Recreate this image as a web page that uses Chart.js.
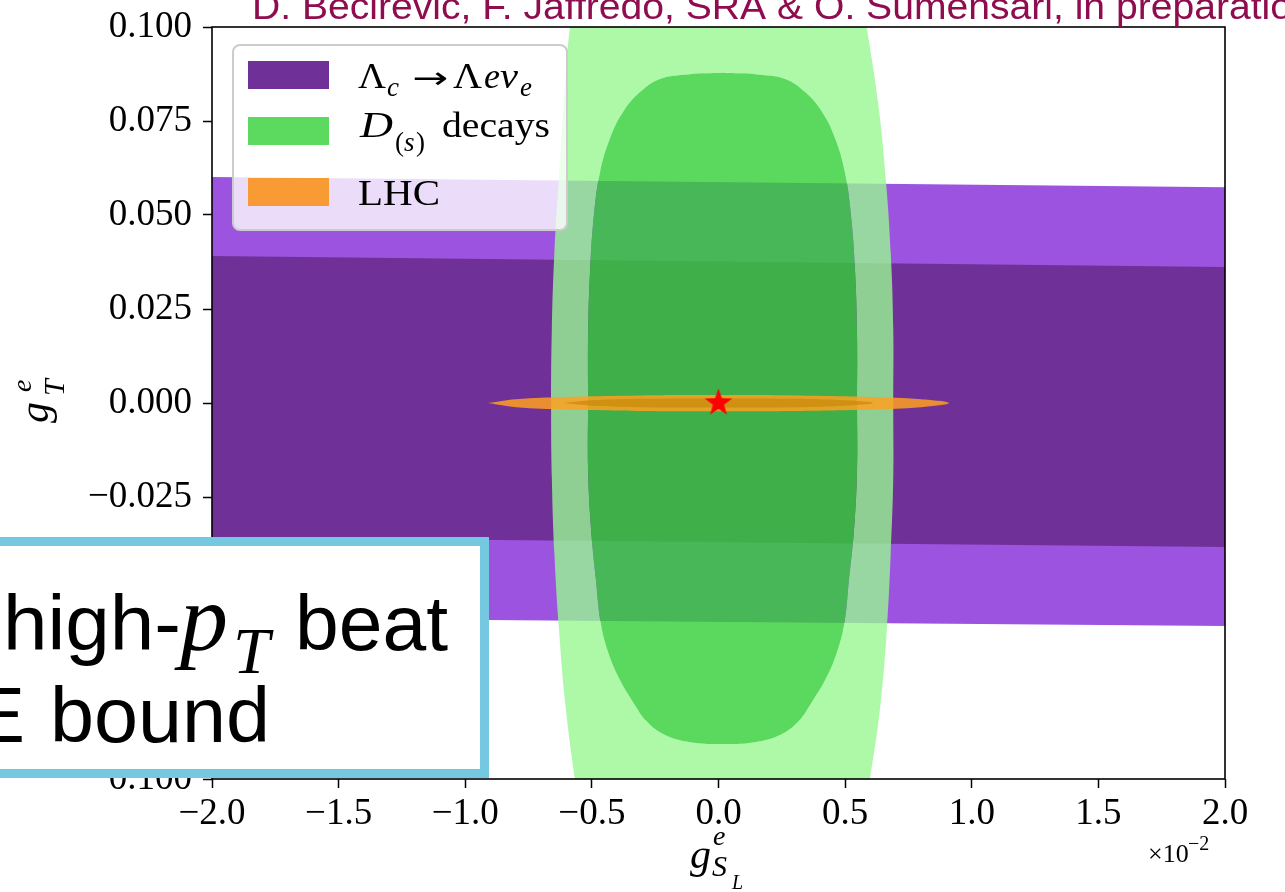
<!DOCTYPE html>
<html>
<head>
<meta charset="utf-8">
<script src="https://cdn.jsdelivr.net/npm/chart.js@4.4.1/dist/chart.umd.min.js"></script>
<style>
  html, body { margin: 0; padding: 0; background: #fff; overflow: hidden; }
</style>
</head>
<body>
<canvas id="plot" width="1285" height="892"></canvas>
<script>
// ---- data (x in units of 10^-2) ----
const xTickValues = [-2, -1.5, -1, -0.5, 0, 0.5, 1, 1.5, 2];
const xTickLabels = ['\u22122.0', '\u22121.5', '\u22121.0', '\u22120.5', '0.0', '0.5', '1.0', '1.5', '2.0'];
const yTickValues = [-0.1, -0.075, -0.05, -0.025, 0, 0.025, 0.05, 0.075, 0.1];
const yTickLabels = ['\u22120.100', '\u22120.075', '\u22120.050', '\u22120.025', '0.000', '0.025', '0.050', '0.075', '0.100'];

// Lambda_c -> Lambda e nu : 2 sigma and 1 sigma bands (corners)
const lambdaOuter = [[-2, 0.0601], [2, 0.0574], [2, -0.0593], [-2, -0.0571]];
const lambdaInner = [[-2, 0.0391], [2, 0.0362], [2, -0.0383], [-2, -0.0357]];

// D(s) decays : outer (2 sigma) contour, clockwise from the top
const dOuter = [
  [0.015, 0.190], [0.21, 0.180], [0.37, 0.160], [0.47, 0.140], [0.535, 0.120], [0.585, 0.100],
  [0.63, 0.080], [0.66, 0.060], [0.68, 0.040], [0.69, 0.020], [0.69, 0.0], [0.69, -0.020],
  [0.68, -0.040], [0.665, -0.060], [0.64, -0.080], [0.598, -0.100], [0.545, -0.120], [0.475, -0.140],
  [0.375, -0.160], [0.215, -0.180], [0.015, -0.190], [-0.185, -0.180], [-0.345, -0.160], [-0.445, -0.140],
  [-0.52, -0.120], [-0.567, -0.100], [-0.605, -0.080], [-0.63, -0.060], [-0.648, -0.040], [-0.658, -0.020],
  [-0.661, 0.0], [-0.658, 0.020], [-0.648, 0.040], [-0.63, 0.060], [-0.61, 0.080], [-0.586, 0.100],
  [-0.53, 0.120], [-0.455, 0.140], [-0.35, 0.160], [-0.19, 0.180]
];
// D(s) decays : inner (1 sigma) contour, clockwise from the top
const dInner = [
  [0.018, 0.0878], [0.152, 0.0874], [0.263, 0.0862], [0.342, 0.0827], [0.409, 0.0774], [0.460, 0.0705],
  [0.499, 0.0614], [0.523, 0.0500], [0.539, 0.0354], [0.547, 0.0181], [0.547, 0.0],
  [0.547, -0.0178], [0.535, -0.0338], [0.515, -0.0471], [0.496, -0.0590], [0.464, -0.0670], [0.421, -0.0737],
  [0.369, -0.0795], [0.314, -0.0848], [0.243, -0.0883], [0.144, -0.0902], [0.018, -0.0907],
  [-0.113, -0.0902], [-0.211, -0.0883], [-0.282, -0.0848], [-0.338, -0.0795], [-0.389, -0.0737], [-0.432, -0.0670],
  [-0.464, -0.0590], [-0.484, -0.0471], [-0.503, -0.0338], [-0.515, -0.0178], [-0.515, 0.0],
  [-0.515, 0.0181], [-0.507, 0.0354], [-0.492, 0.0500], [-0.468, 0.0614], [-0.428, 0.0705], [-0.377, 0.0774],
  [-0.310, 0.0827], [-0.231, 0.0862], [-0.120, 0.0874]
];

// LHC : two thin ellipses
const lhcOuter = [
  [-0.91, 0.0], [-0.80, 0.0010], [-0.60, 0.0016], [-0.30, 0.0020], [0.0, 0.0021], [0.30, 0.0020],
  [0.60, 0.0016], [0.80, 0.0010], [0.91, 0.0], [0.80, -0.0011], [0.60, -0.0017], [0.30, -0.0021],
  [0.0, -0.0022], [-0.30, -0.0021], [-0.60, -0.0017], [-0.80, -0.0011]
];
const lhcInner = [
  [-0.61, 0.0], [-0.50, 0.0007], [-0.30, 0.0011], [0.0, 0.0012], [0.30, 0.0011], [0.50, 0.0007],
  [0.61, 0.0], [0.50, -0.0007], [0.30, -0.0011], [0.0, -0.0012], [-0.30, -0.0011], [-0.50, -0.0007]
];

const bestFit = [[0, 0]];

// ---- helpers ----
const pts = arr => arr.map(p => ({x: p[0], y: p[1]}));
const closed = arr => pts(arr.concat([arr[0]]));

// ring: outer loop one way, inner loop the other way -> hole with nonzero fill
function ring(outer, inner) {
  const innerRev = [inner[0]].concat(inner.slice(1).reverse());
  const path = outer.concat([outer[0], inner[0]], innerRev, [inner[0], inner[0], outer[0]]);
  return pts(path);
}

function makeStar(r) {
  const c = document.createElement('canvas');
  c.width = c.height = 34;
  const g = c.getContext('2d');
  g.translate(17, 17);
  g.beginPath();
  for (let i = 0; i < 10; i++) {
    const rr = i % 2 ? r * 0.4 : r;
    const a = -Math.PI / 2 + i * Math.PI / 5;
    g.lineTo(rr * Math.cos(a), rr * Math.sin(a));
  }
  g.closePath();
  g.fillStyle = '#ff0000';
  g.fill();
  return c;
}

function shape(data, color, tension) {
  return {
    data: data,
    showLine: true,
    fill: 'shape',
    backgroundColor: color,
    borderColor: 'rgba(0,0,0,0)',
    borderWidth: 0,
    pointRadius: 0,
    tension: tension
  };
}

function drawRuns(ctx, parts, color) {
  ctx.fillStyle = color || '#000';
  ctx.textBaseline = 'alphabetic';
  ctx.textAlign = 'left';
  parts.forEach(p => {
    ctx.font = (p.it ? 'italic ' : '') + p.size + 'px ' + (p.fam || '"Liberation Serif"');
    if (p.w) {
      const m = ctx.measureText(p.t).width;
      ctx.save();
      ctx.translate(p.x, p.y);
      ctx.scale(p.w / m, 1);
      ctx.fillText(p.t, 0, 0);
      ctx.restore();
    } else {
      ctx.fillText(p.t, p.x, p.y);
    }
  });
}

function roundRect(ctx, x, y, w, h, r) {
  ctx.beginPath();
  ctx.moveTo(x + r, y);
  ctx.arcTo(x + w, y, x + w, y + h, r);
  ctx.arcTo(x + w, y + h, x, y + h, r);
  ctx.arcTo(x, y + h, x, y, r);
  ctx.arcTo(x, y, x + w, y, r);
  ctx.closePath();
}

const SANS = '"Liberation Sans", Arial, sans-serif';

const decor = {
  id: 'decor',
  afterDatasetsDraw(chart) {
    const {ctx, chartArea: a} = chart;
    ctx.save();
    ctx.strokeStyle = '#000';
    ctx.lineWidth = 1.6;
    ctx.strokeRect(a.left, a.top, a.right - a.left, a.bottom - a.top);
    ctx.restore();
  },
  afterDraw(chart) {
    const ctx = chart.ctx;
    ctx.save();

    // legend
    roundRect(ctx, 233, 45, 334, 185, 7);
    ctx.fillStyle = 'rgba(255,255,255,0.8)';
    ctx.fill();
    ctx.strokeStyle = '#cccccc';
    ctx.lineWidth = 2;
    ctx.stroke();
    ctx.fillStyle = '#6f3198'; ctx.fillRect(248, 61, 81, 28);
    ctx.fillStyle = '#5cd95f'; ctx.fillRect(248, 117, 81, 28);
    ctx.fillStyle = '#f99b34'; ctx.fillRect(248, 178, 81, 28);
    drawRuns(ctx, [
      {t: '\u039b', x: 358, y: 88, size: 36, w: 28},
      {t: 'c', x: 387, y: 96, size: 27, it: true},
      {t: '\u2192', x: 412, y: 88, size: 30, fam: '"DejaVu Sans"', w: 36},
      {t: '\u039b', x: 453, y: 88, size: 36, w: 29},
      {t: 'e', x: 484, y: 88, size: 36, it: true, w: 16},
      {t: '\u03bd', x: 500, y: 88, size: 36, it: true, w: 18},
      {t: 'e', x: 520, y: 96, size: 27, it: true},
      {t: 'D', x: 360, y: 137, size: 36, it: true, w: 33},
      {t: '(', x: 395, y: 151, size: 27},
      {t: 's', x: 404, y: 151, size: 27, it: true},
      {t: ')', x: 416, y: 151, size: 27},
      {t: 'decays', x: 442, y: 137, size: 36, w: 108},
      {t: 'LHC', x: 358, y: 205, size: 36, w: 82}
    ]);

    // axis titles
    ctx.save();
    ctx.translate(42, 423);
    ctx.rotate(-Math.PI / 2);
    drawRuns(ctx, [
      {t: 'g', x: 0, y: 6, size: 42, it: true},
      {t: 'e', x: 31, y: -11, size: 28, it: true},
      {t: 'T', x: 27, y: 22, size: 30, it: true}
    ]);
    ctx.restore();
    drawRuns(ctx, [
      {t: 'g', x: 690, y: 868, size: 42, it: true},
      {t: 'e', x: 713, y: 845, size: 28, it: true},
      {t: 'S', x: 712, y: 876, size: 30, it: true},
      {t: 'L', x: 732, y: 889, size: 20, it: true},
      {t: '\u00d710', x: 1148, y: 862, size: 26},
      {t: '\u22122', x: 1188, y: 850, size: 20}
    ]);

    // header line (cut by the page top)
    const head = 'D. Becirevic, F. Jaffredo, SRA & O. Sumensari, in preparation';
    ctx.font = '36px ' + SANS;
    const k = 1040 / ctx.measureText('D. Becirevic, F. Jaffredo, SRA & O. Sumensari, in preparatio').width;
    ctx.save();
    ctx.translate(252, 19);
    ctx.scale(k, 1);
    ctx.fillStyle = '#8f0d4f';
    ctx.fillText(head, 0, 0);
    ctx.restore();

    // slide callout box
    ctx.fillStyle = '#ffffff';
    ctx.fillRect(-20, 537, 509, 241);
    ctx.strokeStyle = '#74c9e0';
    ctx.lineWidth = 9;
    ctx.strokeRect(-20, 541.5, 504.5, 232);
    drawRuns(ctx, [
      {t: 'high-', x: 3, y: 650, size: 78, fam: SANS, w: 178},
      {t: 'p', x: 180, y: 650, size: 96, it: true},
      {t: 'T', x: 233, y: 673, size: 66, it: true},
      {t: 'beat', x: 295, y: 650, size: 78, fam: SANS, w: 153},
      {t: 'E', x: -27, y: 742, size: 78, fam: SANS},
      {t: 'bound', x: 50, y: 742, size: 78, fam: SANS, w: 220}
    ]);
    ctx.restore();
  }
};

const tickFont = {family: '"Liberation Serif", serif', size: 37};

new Chart(document.getElementById('plot'), {
  type: 'scatter',
  data: {
    datasets: [
      {data: pts(bestFit), pointStyle: makeStar(14.5), pointRadius: 10, showLine: false},
      shape(closed(lhcInner), 'rgba(190,125,0,0.5)', 0.4),
      shape(closed(lhcOuter), 'rgba(255,160,30,0.85)', 0.4),
      shape(closed(dInner), 'rgba(50,208,54,0.8)', 0.4),
      shape(ring(dOuter, dInner), 'rgba(152,247,146,0.8)', 0.4),
      shape(closed(lambdaInner), '#6f3198', 0),
      shape(closed(lambdaOuter), '#9c54e0', 0)
    ]
  },
  options: {
    responsive: false,
    animation: false,
    devicePixelRatio: 1,
    events: [],
    layout: {padding: {left: 0, top: 27, right: 60, bottom: 0}},
    elements: {line: {capBezierPoints: false}},
    plugins: {legend: {display: false}, tooltip: {enabled: false}},
    scales: {
      x: {
        type: 'linear', min: -2, max: 2,
        afterBuildTicks: axis => { axis.ticks = xTickValues.map(v => ({value: v})); },
        afterFit: axis => { axis.height = 113; axis.paddingLeft = 0; axis.paddingRight = 0; },
        ticks: {
          font: tickFont, color: '#000', padding: 4, maxRotation: 0, autoSkip: false,
          callback: v => xTickLabels[xTickValues.indexOf(v)]
        },
        grid: {drawOnChartArea: false, tickLength: 9, tickWidth: 1.5, tickColor: '#000'},
        border: {display: false}
      },
      y: {
        type: 'linear', min: -0.1, max: 0.1,
        afterBuildTicks: axis => { axis.ticks = yTickValues.map(v => ({value: v})); },
        afterFit: axis => { axis.width = 212; axis.paddingTop = 0; axis.paddingBottom = 0; },
        ticks: {
          font: tickFont, color: '#000', padding: 11, autoSkip: false,
          callback: v => yTickLabels[yTickValues.indexOf(v)]
        },
        grid: {drawOnChartArea: false, tickLength: 9, tickWidth: 1.5, tickColor: '#000'},
        border: {display: false}
      }
    }
  },
  plugins: [decor]
});
</script>
</body>
</html>
